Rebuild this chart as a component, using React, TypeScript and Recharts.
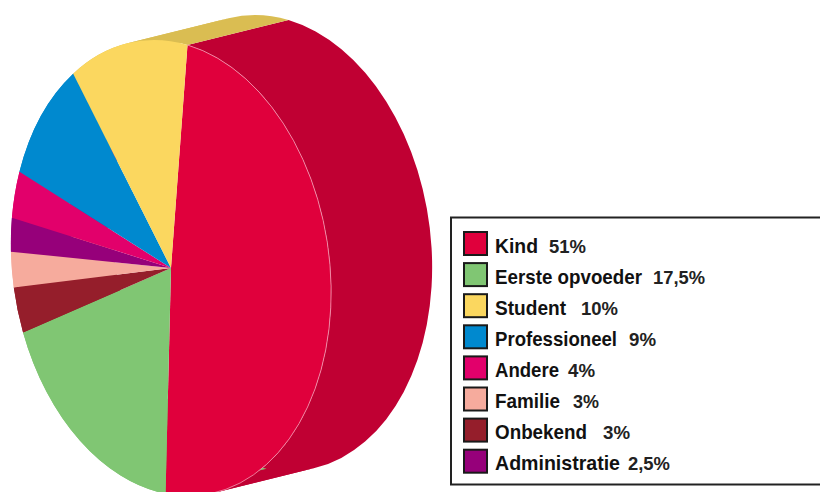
import React from "react";
import { PieChart, Pie, Sector, Legend } from "recharts";

const categories = ["Kind", "Eerste opvoeder", "Onbekend", "Familie", "Administratie", "Andere", "Professioneel", "Student"];
// Slice sizes as drawn in the picture (they differ slightly from the printed labels).
const drawnShares = [48.9, 18.2, 3.2, 2.5, 2.4, 3.4, 9.3, 12.1];
const faceColors = ["#e0003c", "#80c673", "#951e2b", "#f6ab9d", "#96007a", "#e2006b", "#0089cf", "#fbd75f"];
const wallColors = ["#c00033", "#80c673", "#951e2b", "#f6ab9d", "#96007a", "#e2006b", "#0089cf", "#dabd52"];

const legendNames = ["Kind", "Eerste opvoeder", "Student", "Professioneel", "Andere", "Familie", "Onbekend", "Administratie"];
const legendValues = ["51%", "17,5%", "10%", "9%", "4%", "3%", "3%", "2,5%"];
const legendColors = ["#e0003c", "#80c673", "#fbd75f", "#0089cf", "#e2006b", "#f6ab9d", "#951e2b", "#96007a"];
const legendNameWidths = [43, 147, 71, 122, 64, 65, 92, 125];
const legendValueX = [549, 653, 581, 629, 568, 573, 603, 628];
const legendValueWidths = [37, 52, 37, 27, 27, 26, 27, 42];

const table = categories.map((name, i) => ({ name, value: drawnShares[i], fill: faceColors[i], wall: wallColors[i] }));

const CX = 171;
const CY = 268;
const R = 100;
// Images of the disc's "right" and "up" radii on the page.
const A = [159.3, 47.5];
const B = [16.5, -223];
const DEPTH = [101, -25];
const m = [A[0] / R, A[1] / R, -B[0] / R, -B[1] / R];
const MATRIX = `translate(${CX},${CY}) matrix(${m.join(",")},0,0) translate(${-CX},${-CY})`;
// Depth expressed in the disc's own coordinates.
const d = m[0] * m[3] - m[1] * m[2];
const LOCAL_DEPTH = [(m[3] * DEPTH[0] - m[2] * DEPTH[1]) / d, (-m[1] * DEPTH[0] + m[0] * DEPTH[1]) / d];
// Angle (degrees) where the extrusion direction is tangent to the disc.
const TANGENT_DEG = (Math.atan2(-LOCAL_DEPTH[1], LOCAL_DEPTH[0]) * 180) / Math.PI + 90;

const pt = (cx: number, cy: number, r: number, deg: number, ox = 0, oy = 0) => {
  const t = (deg * Math.PI) / 180;
  return [cx + r * Math.cos(t) + ox, cy - r * Math.sin(t) + oy];
};

const arcEdge = (props: any) => {
  const { cx, cy, outerRadius: r, startAngle, endAngle } = props;
  const s = pt(cx, cy, r, startAngle);
  const e = pt(cx, cy, r, endAngle);
  const large = Math.abs(startAngle - endAngle) > 180 ? 1 : 0;
  return `M${s[0]},${s[1]}A${r},${r} 0 ${large} 1 ${e[0]},${e[1]}`;
};

// Cut a clockwise arc (start > end) at the tangent angles, so that each piece sweeps a simple region.
const splitArc = (start: number, end: number) => {
  const cuts: number[] = [];
  for (let k = -4; k <= 4; k++) {
    const c = TANGENT_DEG + k * 180;
    if (c < start && c > end) cuts.push(c);
  }
  cuts.sort((p, q) => q - p);
  const stops = [start, ...cuts, end];
  return stops.slice(0, -1).map((s, i) => [s, stops[i + 1]]);
};

const WallShape = (props: any) => {
  const { cx, cy, outerRadius: r, startAngle, endAngle, wall } = props;
  const [ox, oy] = LOCAL_DEPTH;
  return (
    <g transform={MATRIX}>
      {splitArc(startAngle, endAngle).map(([a0, a1]) => {
        const s = pt(cx, cy, r, a0);
        const e = pt(cx, cy, r, a1);
        const bs = pt(cx, cy, r, a0, ox, oy);
        const be = pt(cx, cy, r, a1, ox, oy);
        const path = `M${s[0]},${s[1]}A${r},${r} 0 0 1 ${e[0]},${e[1]}L${be[0]},${be[1]}A${r},${r} 0 0 0 ${bs[0]},${bs[1]}Z`;
        return <path key={a0} d={path} fill={wall} stroke="none" />;
      })}
    </g>
  );
};

const FaceShape = (props: any) => {
  const { cx, cy, outerRadius, startAngle, endAngle, fill, name } = props;
  return (
    <g transform={MATRIX}>
      <Sector cx={cx} cy={cy} innerRadius={0} outerRadius={outerRadius} startAngle={startAngle} endAngle={endAngle} fill={fill} stroke="none" />
      {name === categories[0] ? (
        <path d={arcEdge(props)} fill="none" stroke="#f29ab2" strokeWidth={0.8} vectorEffect="non-scaling-stroke" />
      ) : null}
    </g>
  );
};

const FONT = '"Liberation Sans Narrow", "Liberation Sans", sans-serif';

const LegendBox = () => (
  <svg width={820} height={492} style={{ display: "block" }}>
    <rect x={451} y={217.5} width={400} height={267} fill="#ffffff" stroke="#222222" strokeWidth={2} />
    {legendNames.map((name, i) => {
      const y = 231 + i * 31.1;
      return (
        <g key={name}>
          <rect x={464} y={y + 1} width={23} height={23} fill={legendColors[i]} stroke="#1a1a1a" strokeWidth={2} />
          <text x={495} y={y + 21.5} fontFamily={FONT} fontWeight={700} fontSize={21} fill="#111111" textLength={legendNameWidths[i]} lengthAdjust="spacingAndGlyphs">
            {name}
          </text>
          <text x={legendValueX[i]} y={y + 21.5} fontFamily={FONT} fontWeight={700} fontSize={19} fill="#222222" textLength={legendValueWidths[i]} lengthAdjust="spacingAndGlyphs">
            {legendValues[i]}
          </text>
        </g>
      );
    })}
  </svg>
);

export default function App() {
  return (
    <div style={{ position: "absolute", left: 0, top: 0, width: 820, height: 492, overflow: "hidden", background: "#ffffff" }}>
      <PieChart width={820} height={492} margin={{ top: 0, right: 0, bottom: 0, left: 0 }}>
        <Pie data={table} dataKey="value" nameKey="name" cx={CX} cy={CY} innerRadius={0} outerRadius={R} startAngle={90} endAngle={-270} stroke="none" isAnimationActive={false} legendType="none" shape={WallShape} />
        <Pie data={table} dataKey="value" nameKey="name" cx={CX} cy={CY} innerRadius={0} outerRadius={R} startAngle={90} endAngle={-270} stroke="none" isAnimationActive={false} shape={FaceShape} />
        <Legend content={<LegendBox />} wrapperStyle={{ position: "absolute", left: 0, top: 0, width: 820, height: 492, pointerEvents: "none" }} />
      </PieChart>
    </div>
  );
}
